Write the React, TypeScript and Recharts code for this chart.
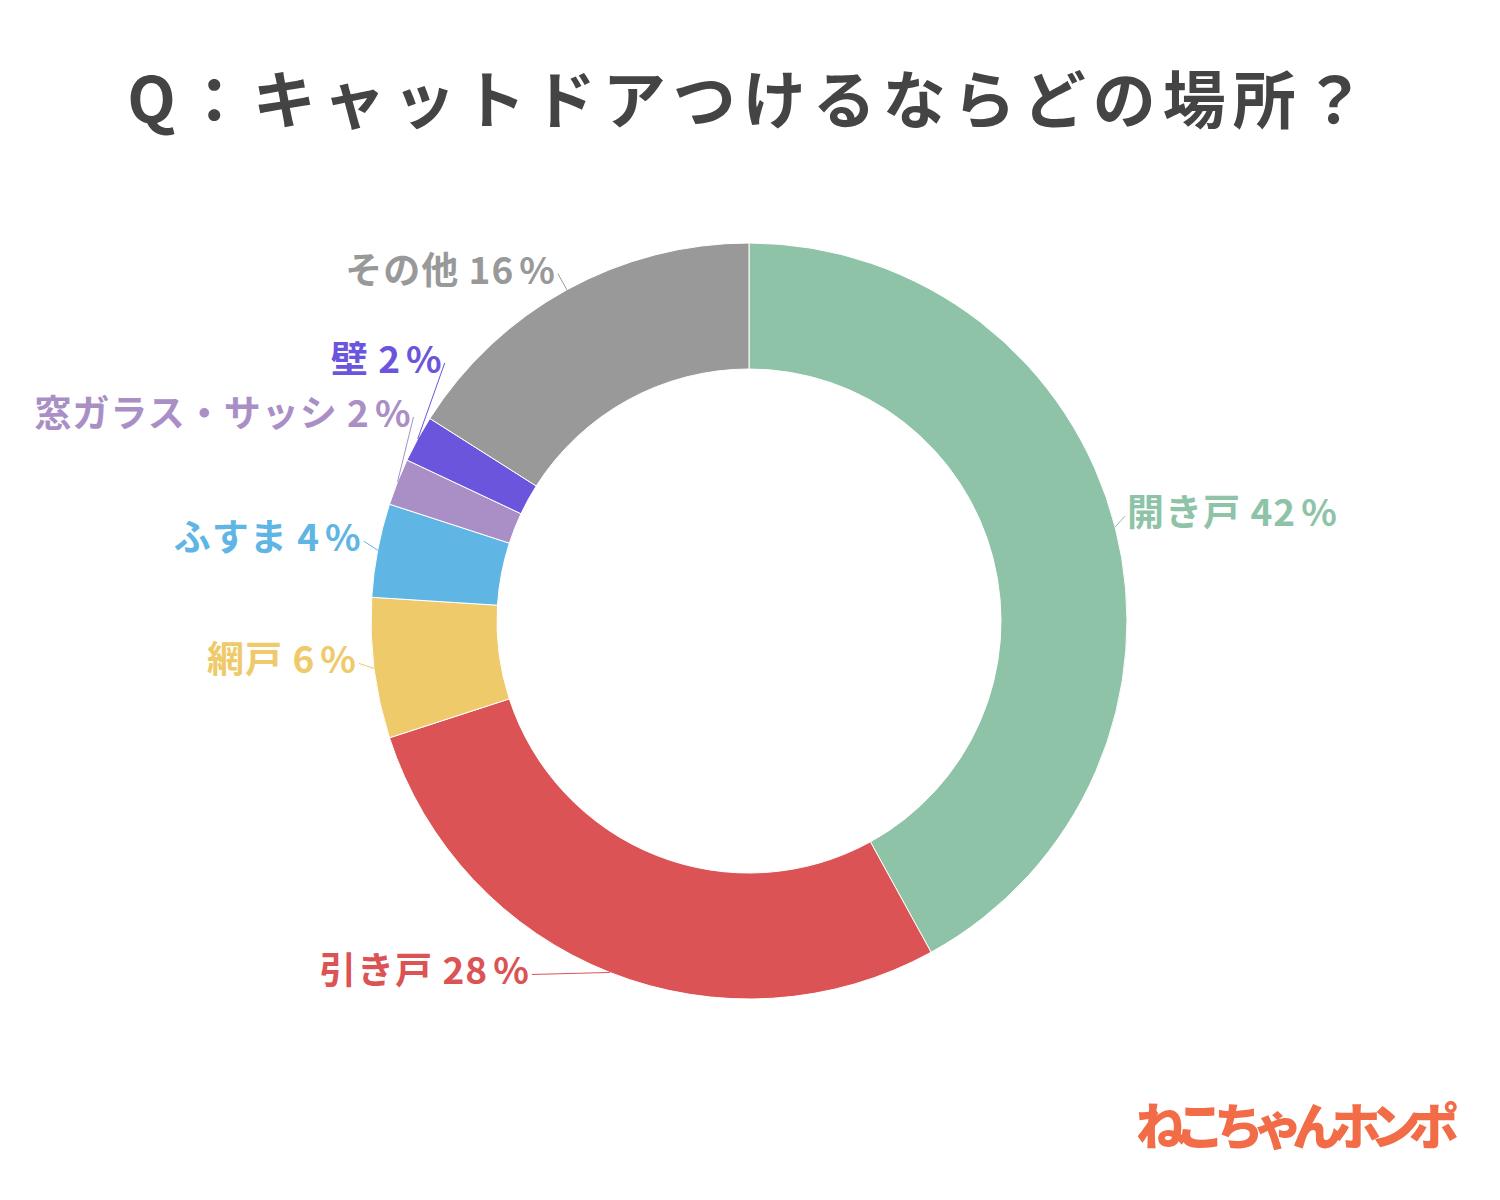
import { PieChart, Pie, Cell } from 'recharts';

const TITLE = 'Q：キャットドアつけるならどの場所？';
const BRAND = 'ねこちゃんホンポ';

const places = ['開き戸', '引き戸', '網戸', 'ふすま', '窓ガラス・サッシ', '壁', 'その他'];
const shares = [42, 28, 6, 4, 2, 2, 16];

const COLORS = ['#8fc3a8', '#db5355', '#efca6a', '#5fb5e4', '#a98fc6', '#6b55dc', '#999999'];
// label offset from the outer edge of each slice
const LABEL_SHIFT = [
  { dx: 12, dy: -17, anchor: 'start' },
  { dx: -80, dy: -4, anchor: 'end' },
  { dx: -17, dy: -11, anchor: 'end' },
  { dx: -16, dy: -15, anchor: 'end' },
  { dx: 14, dy: -71, anchor: 'end' },
  { dx: 25, dy: -82, anchor: 'end' },
  { dx: -11, dy: -22, anchor: 'end' },
];

const data = places.map((name, i) => ({ name, value: shares[i] }));

const FONT = '"Noto Sans CJK JP", "Noto Sans", sans-serif';
const RAD = Math.PI / 180;

const renderLabel = (props: any) => {
  const { cx, cy, midAngle, outerRadius, index } = props;
  const px = cx + outerRadius * Math.cos(-midAngle * RAD);
  const py = cy + outerRadius * Math.sin(-midAngle * RAD);
  const s = LABEL_SHIFT[index];
  const tx = px + s.dx;
  const ty = py + s.dy;
  const color = COLORS[index];
  const lx = s.anchor === 'start' ? tx - 2 : tx + 2;
  return (
    <g key={`lbl-${index}`}>
      <polyline points={`${px},${py} ${lx},${ty + 6}`} fill="none" stroke={color} strokeWidth={1} />
      <text
        x={tx}
        y={ty}
        textAnchor={s.anchor}
        dominantBaseline="central"
        fill={color}
        fontFamily={FONT}
        fontWeight={700}
        fontSize={37}
        letterSpacing={1}
      >
        {data[index].name} {data[index].value}
        <tspan dx={5}>%</tspan>
      </text>
    </g>
  );
};

export default function App() {
  return (
    <div style={{ position: 'absolute', left: 0, top: 0, width: 1500, height: 1200, background: '#fff' }}>
      <div
        style={{
          position: 'absolute', left: 0, top: 56, width: 1500, textAlign: 'center',
          fontFamily: FONT, fontWeight: 700, fontSize: 63, letterSpacing: 7, color: '#444444', lineHeight: '80px',
        }}
      >
        {TITLE}
      </div>
      <PieChart width={1500} height={1200} margin={{ top: 0, right: 0, bottom: 0, left: 0 }}>
        <Pie
          data={data}
          dataKey="value"
          nameKey="name"
          cx={749}
          cy={621}
          innerRadius={252}
          outerRadius={378}
          startAngle={90}
          endAngle={-270}
          stroke="#ffffff"
          strokeWidth={1}
          label={renderLabel}
          labelLine={false}
          isAnimationActive={false}
        >
          {data.map((entry, index) => (
            <Cell key={`cell-${index}`} fill={COLORS[index]} />
          ))}
        </Pie>
      </PieChart>
      <div
        style={{
          position: 'absolute', left: 1136, top: 1088, fontFamily: FONT, fontWeight: 900,
          fontSize: 50, letterSpacing: -11, color: '#f26c47', lineHeight: '70px',
        }}
      >
        {BRAND}
      </div>
    </div>
  );
}
